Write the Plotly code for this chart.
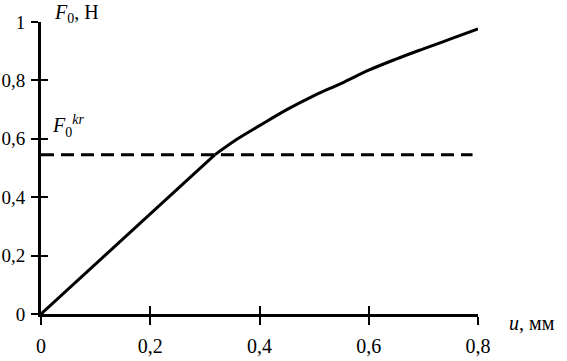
import plotly.graph_objects as go

# Data
u_mm = [0, 0.1, 0.2, 0.3, 0.318, 0.36, 0.4, 0.45, 0.5, 0.55, 0.6, 0.65, 0.7, 0.75, 0.8]
F0 = [0, 0.172, 0.344, 0.515, 0.545, 0.6, 0.645, 0.7, 0.748, 0.79, 0.835, 0.873, 0.908, 0.942, 0.976]
kink_index = 4  # the curve is straight up to this point, then bends
F0_kr = 0.545
kr_x = [0, 0.79]

x_ticks = [0, 0.2, 0.4, 0.6, 0.8]
x_ticktext = ["0", "0,2", "0,4", "0,6", "0,8"]
y_ticks = [0, 0.2, 0.4, 0.6, 0.8, 1]
y_ticktext = ["0", "0,2", "0,4", "0,6", "0,8", "1"]

FONT = "'Liberation Serif', 'Times New Roman', Times, serif"

fig = go.Figure()
fig.add_trace(go.Scatter(x=u_mm[:kink_index + 1], y=F0[:kink_index + 1], mode="lines",
                         line=dict(color="black", width=3), showlegend=False,
                         hoverinfo="skip"))
fig.add_trace(go.Scatter(x=u_mm[kink_index:], y=F0[kink_index:], mode="lines",
                         line=dict(color="black", width=3, shape="spline", smoothing=1),
                         showlegend=False, hoverinfo="skip"))
fig.add_trace(go.Scatter(x=kr_x, y=[F0_kr, F0_kr], mode="lines",
                         line=dict(color="black", width=3, dash="13px,7px"),
                         showlegend=False, xaxis="x2", yaxis="y2", hoverinfo="skip"))

axis_common = dict(showgrid=False, zeroline=False, tickcolor="black", tickwidth=2,
                   automargin=False)

fig.update_layout(
    width=567, height=361,
    margin=dict(l=41, r=89, t=22, b=47),
    paper_bgcolor="white", plot_bgcolor="white",
    xaxis=dict(range=[0, 0.8], tickvals=x_ticks, ticktext=x_ticktext,
               ticks="outside", ticklen=8, showline=True, linecolor="black",
               linewidth=3, ticklabelstandoff=4,
               tickfont=dict(family=FONT, size=20, color="black"), **axis_common),
    yaxis=dict(range=[0, 1], tickvals=y_ticks, ticktext=y_ticktext,
               ticks="outside", ticklen=7, showline=True, linecolor="black",
               linewidth=3, ticklabelstandoff=2,
               tickfont=dict(family=FONT, size=19, color="black"), **axis_common),
    xaxis2=dict(range=[0, 0.8], overlaying="x", anchor="y2", side="bottom",
                tickvals=x_ticks, ticks="inside", ticklen=8, showticklabels=False,
                showline=False, **axis_common),
    yaxis2=dict(range=[0, 1], overlaying="y", anchor="x2", side="left",
                tickvals=y_ticks, ticks="inside", ticklen=7, showticklabels=False,
                showline=False, **axis_common),
    font=dict(family=FONT, size=20, color="black"),
)

fig.add_annotation(text="<i>F</i><sub>0</sub>, Н", xref="paper", yref="paper",
                   x=0.025, y=1.03, xanchor="left", yanchor="middle",
                   showarrow=False, font=dict(family=FONT, size=20, color="black"))
fig.add_annotation(text="<i>u</i>, мм", xref="paper", yref="paper",
                   x=1.066, y=-0.03, xanchor="left", yanchor="middle",
                   showarrow=False, font=dict(family=FONT, size=20, color="black"))
fig.add_annotation(text="<i>F</i><sub>0</sub><sup><i>kr</i></sup>", xref="paper", yref="paper",
                   x=0.02, y=0.645, xanchor="left", yanchor="middle",
                   showarrow=False, font=dict(family=FONT, size=20, color="black"))

fig.write_html("out.html", config={"displayModeBar": False},
               post_script="document.body.style.margin='0';document.body.style.overflow='hidden';")
